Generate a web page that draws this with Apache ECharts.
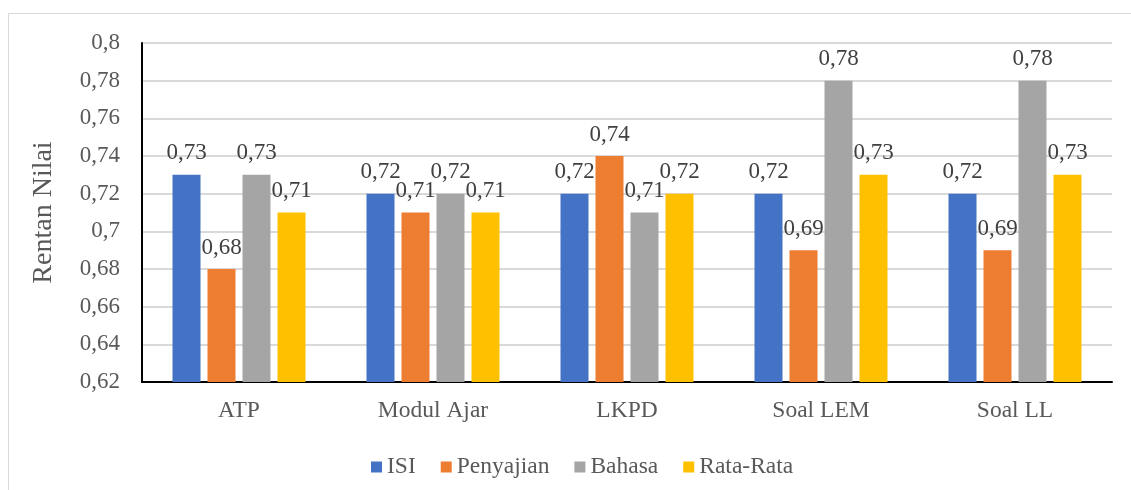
<!DOCTYPE html>
<html>
<head>
<meta charset="utf-8">
<script src="https://cdn.jsdelivr.net/npm/echarts@6/dist/echarts.min.js"></script>
<style>
  html, body { margin: 0; padding: 0; background: #fff; }
  #chart { width: 1131px; height: 490px; }
</style>
</head>
<body>
<div id="chart"></div>
<script>
// Penilaian perangkat pembelajaran per aspek
const categories = ['ATP', 'Modul Ajar', 'LKPD', 'Soal LEM', 'Soal LL'];
const isi        = [0.73, 0.72, 0.72, 0.72, 0.72];
const penyajian  = [0.68, 0.71, 0.74, 0.69, 0.69];
const bahasa     = [0.73, 0.72, 0.71, 0.78, 0.78];
const rataRata   = [0.71, 0.71, 0.72, 0.73, 0.73];

const SERIF = '"Liberation Serif", "Times New Roman", serif';
const fmt = v => String(Math.round(v * 100) / 100).replace('.', ',');

const chart = echarts.init(document.getElementById('chart'));

function barSeries(name, data, color) {
  return {
    name: name,
    type: 'bar',
    data: data,
    barWidth: 28,
    barGap: '25%',
    itemStyle: { color: color },
    label: {
      show: true,
      position: 'top',
      distance: 10,
      formatter: p => fmt(p.value),
      fontFamily: SERIF,
      fontSize: 23,
      color: '#404040'
    }
  };
}

chart.setOption({
  animation: false,
  graphic: [{
    type: 'rect',
    shape: { x: 8.5, y: 13.5, width: 1140, height: 500 },
    style: { fill: 'none', stroke: '#d9d9d9', lineWidth: 1 },
    silent: true
  }],
  grid: { left: 142, right: 19, top: 43, bottom: 108 },
  legend: {
    left: 366,
    top: 450,
    itemWidth: 11,
    itemHeight: 11,
    itemGap: 25,
    icon: 'rect',
    textStyle: { fontFamily: SERIF, fontSize: 23.5, color: '#595959' },
    data: ['ISI', 'Penyajian', 'Bahasa', 'Rata-Rata']
  },
  xAxis: {
    type: 'category',
    data: categories,
    axisLine: { lineStyle: { color: '#000', width: 2 } },
    axisTick: { show: false },
    axisLabel: { fontFamily: SERIF, fontSize: 23.5, color: '#595959', margin: 17 }
  },
  yAxis: {
    type: 'value',
    min: 0.62,
    max: 0.8,
    interval: 0.02,
    name: 'Rentan Nilai',
    nameLocation: 'middle',
    nameGap: 84,
    nameTextStyle: { fontFamily: SERIF, fontSize: 28, color: '#595959' },
    axisLine: { show: true, lineStyle: { color: '#000', width: 2 } },
    axisTick: { show: false },
    splitLine: { lineStyle: { color: '#d9d9d9', width: 2 } },
    axisLabel: { fontFamily: SERIF, fontSize: 23, color: '#595959', margin: 22, formatter: fmt }
  },
  series: [
    barSeries('ISI', isi, '#4472C4'),
    barSeries('Penyajian', penyajian, '#ED7D31'),
    barSeries('Bahasa', bahasa, '#A5A5A5'),
    barSeries('Rata-Rata', rataRata, '#FFC000')
  ]
});
</script>
</body>
</html>
